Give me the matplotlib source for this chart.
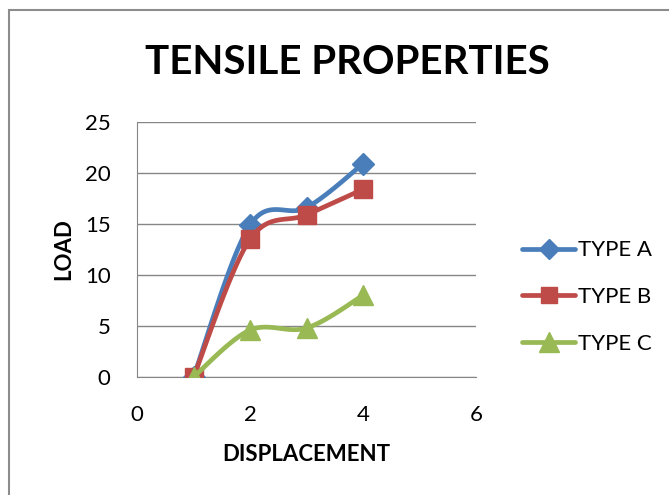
import matplotlib.pyplot as plt
from matplotlib.patches import Rectangle
import numpy as np

displacement = [1, 2, 3, 4]
type_a = [0, 14.9, 16.6, 20.9]
type_b = [0, 13.5, 15.9, 18.4]
type_c = [0, 4.6, 4.8, 8.0]
series_names = ["TYPE A", "TYPE B", "TYPE C"]
colors = ["#4A7EBB", "#BE4B48", "#98B954"]
markers = ["D", "s", "^"]
x_ticks = [0, 2, 4, 6]
y_ticks = [0, 5, 10, 15, 20, 25]

plt.rcParams['font.family'] = ['Lato', 'DejaVu Sans']


def smooth(xs, ys, n=40):
    # Excel-like smoothed line: cubic Bezier with Catmull-Rom control points
    p = np.column_stack([xs, ys]).astype(float)
    p = np.vstack([p[0], p, p[-1]])
    out = []
    t = np.linspace(0, 1, n)[:, None]
    for i in range(1, len(p) - 2):
        p0, p1 = p[i], p[i + 1]
        c1 = p0 + (p[i + 1] - p[i - 1]) / 6
        c2 = p1 - (p[i + 2] - p[i]) / 6
        seg = ((1 - t) ** 3) * p0 + 3 * ((1 - t) ** 2) * t * c1 + 3 * (1 - t) * t ** 2 * c2 + t ** 3 * p1
        out.append(seg)
    out = np.vstack(out)
    return out[:, 0], out[:, 1]


fig = plt.figure(figsize=(6.69, 4.95), dpi=100)
fig.patches.append(Rectangle((9 / 669, -0.1), 1.2, (495 - 10) / 495 + 0.1,
                             transform=fig.transFigure, fill=False,
                             edgecolor="#8C8C8C", linewidth=1.5))
ax = fig.add_axes([137 / 669, 1 - 377 / 495, (476 - 137) / 669, (377 - 122) / 495])

msizes = [11, 13, 15]
for i, (ys, name, c, m, ms) in enumerate(zip([type_a, type_b, type_c], series_names,
                                             colors, markers, msizes)):
    sx, sy = smooth(displacement, ys)
    ax.plot(sx, sy, color=c, linewidth=3.4, solid_capstyle="round", zorder=3 + i)
    ax.plot(displacement, ys, linestyle="none", marker=m, markersize=ms, color=c,
            zorder=3 + i)
    ax.plot([], [], color=c, linewidth=3.4, marker=m, markersize=ms - 1,
            solid_capstyle="round", label=name)

ax.set_xlim(0, 6)
ax.set_ylim(0, 25)
ax.set_xticks(x_ticks)
ax.set_yticks(y_ticks)
ax.grid(axis="y", color="#868686", linewidth=1)
ax.set_axisbelow(True)
for s in ["top", "right"]:
    ax.spines[s].set_visible(False)
ax.spines["left"].set_color("#868686")
ax.spines["bottom"].set_color("#868686")
ax.tick_params(length=0, labelsize=16)
ax.tick_params(axis="x", pad=20)
ax.tick_params(axis="y", pad=19)

ax.set_xlabel("DISPLACEMENT", fontsize=16, fontweight="bold", labelpad=14)
ax.set_ylabel("LOAD", fontsize=16, fontweight="bold", labelpad=8)
fig.text(347 / 669, 1 - 62 / 495, "TENSILE PROPERTIES", fontsize=29,
         fontweight="bold", ha="center", va="center")

ax.legend(loc="center left", bbox_to_anchor=(502 / 669, 1 - 297 / 495),
          bbox_transform=fig.transFigure, frameon=False, fontsize=16,
          handlelength=2.4, handletextpad=0.1, labelspacing=1.2)

fig.savefig("out.png", dpi=100)
